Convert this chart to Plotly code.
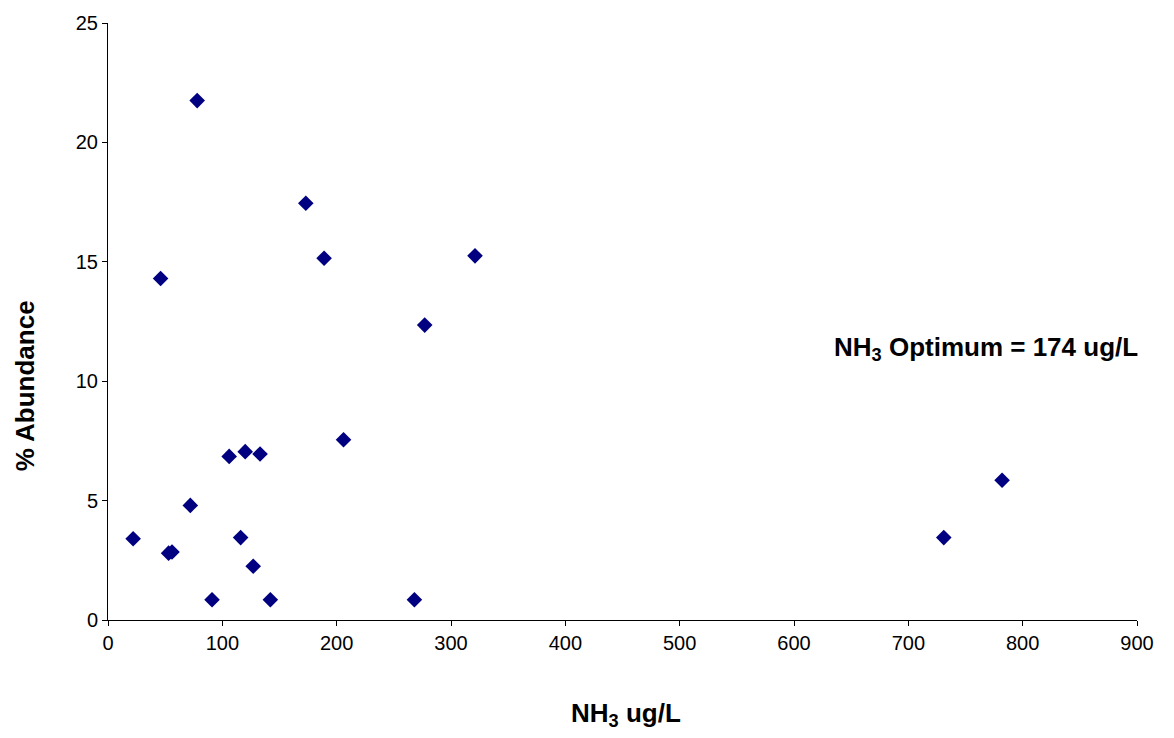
import plotly.graph_objects as go

nh3 = [22, 46, 53, 56, 72, 78, 91, 106, 116, 120, 127, 133, 142, 173, 189, 206, 268, 277, 321, 731, 782]
abundance = [3.4, 14.3, 2.8, 2.85, 4.8, 21.75, 0.85, 6.85, 3.45, 7.05, 2.25, 6.95, 0.85, 17.45, 15.15, 7.55, 0.85, 12.35, 15.25, 3.45, 5.85]

x_ticks = [0, 100, 200, 300, 400, 500, 600, 700, 800, 900]
y_ticks = [0, 5, 10, 15, 20, 25]

FONT = "Liberation Sans, Arial, sans-serif"
TOP = 17
BOT = 620

fig = go.Figure()
fig.add_trace(go.Scatter(
    x=nh3, y=abundance, mode="markers",
    marker=dict(symbol="diamond", size=12, color="#000080", line=dict(width=0)),
    showlegend=False,
))

fig.update_layout(
    width=1174, height=738,
    margin=dict(l=108, r=37, t=TOP, b=738 - BOT),
    paper_bgcolor="white", plot_bgcolor="white",
    font=dict(family=FONT, size=20, color="black"),
    xaxis=dict(range=[0, 900], tickvals=x_ticks, showgrid=False, zeroline=False,
               showline=True, linecolor="black", linewidth=1,
               ticks="outside", ticklen=5, tickcolor="black", tickfont=dict(size=20)),
    yaxis=dict(range=[0, 25], tickvals=y_ticks, showgrid=False, zeroline=False,
               showline=True, linecolor="black", linewidth=1,
               ticks="outside", ticklen=5, tickcolor="black", tickfont=dict(size=20)),
    annotations=[
        dict(text="<b>NH<sub>3</sub> ug/L</b>", xref="paper", yref="paper",
             x=(626 - 108) / (1137 - 108), y=-(715 - BOT) / (BOT - TOP),
             xanchor="center", yanchor="middle", showarrow=False,
             font=dict(family=FONT, size=26)),
        dict(text="<b>% Abundance</b>", xref="paper", yref="paper",
             x=-(108 - 25) / (1137 - 108), y=(BOT - 384) / (BOT - TOP),
             xanchor="center", yanchor="middle", showarrow=False, textangle=-90,
             font=dict(family=FONT, size=26)),
        dict(text="<b>NH<sub>3</sub> Optimum = 174 ug/L</b>", xref="paper", yref="paper",
             x=(986 - 108) / (1137 - 108), y=(BOT - 346) / (BOT - TOP),
             xanchor="center", yanchor="middle", showarrow=False,
             font=dict(family=FONT, size=26)),
    ],
)

fig.write_html("out.html")
